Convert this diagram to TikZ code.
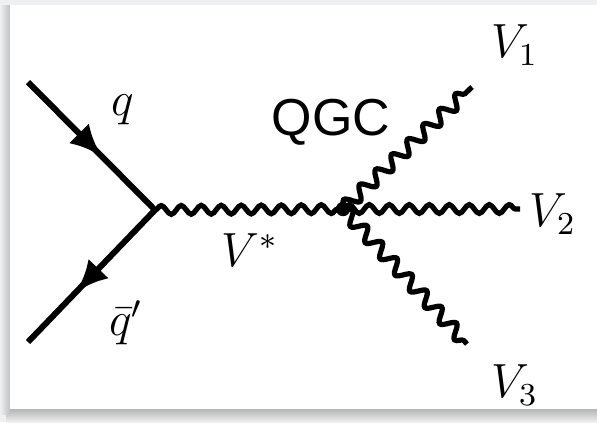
\documentclass[tikz,border=0pt]{standalone}
\usepackage{fontspec}
\newfontfamily\qgcfont{Liberation Sans}
\definecolor{framegray}{RGB}{238,240,242}
\definecolor{shadowgray}{RGB}{150,150,150}
\usepackage{tikz}
\usetikzlibrary{arrows.meta,decorations.pathmorphing,decorations.markings}
\tikzset{
  fermion/.style={line width=1.5pt,postaction={decorate},
    decoration={markings,mark=at position #1 with {\arrow{Latex[length=8pt,width=7pt]}}}},
  boson/.style={line width=1.3pt,decorate,
    decoration={snake,segment length=5pt,amplitude=1.1pt}},
  bosonout/.style={line width=1.3pt,decorate,
    decoration={snake,segment length=5.5pt,amplitude=1.6pt}},
  vlabel/.style={font=\fontsize{12}{14}\selectfont}
}

\begin{document}
\begin{tikzpicture}[x=0.25pt,y=-0.25pt]
    % frame
    \fill[framegray] (0,0) rectangle (597,422);
    \shade[top color=shadowgray!70,bottom color=framegray] (6,409) rectangle (597,422);
    \shade[left color=framegray,right color=shadowgray!60] (0,5) rectangle (10,414);
    \fill[white] (10,5) rectangle (597,409);
    \useasboundingbox (0,0) rectangle (597,422);

    % vertices and end points
    \coordinate (qin) at (28,82);
    \coordinate (qbar) at (28,342);
    \coordinate (vqq) at (155,210);
    \coordinate (vqgc) at (343,209);
    \coordinate (v1end) at (472,87);
    \coordinate (v2end) at (520,209);
    \coordinate (v3end) at (467,344);

    % lines
    \draw[fermion=0.58] (qin) -- (vqq);
    \draw[fermion=0.62] (vqq) -- (qbar);
    \draw[boson] (vqq) -- (vqgc);
    \draw[bosonout] (vqgc) -- (v1end);
    \draw[boson] (vqgc) -- (v2end);
    \draw[bosonout] (vqgc) -- (v3end);
    \fill (vqgc) circle (1.8pt);

    % labels
    \node[vlabel] (lq) at (123,110) {$q$};
    \node[vlabel] (lqbar) at (126,323) {$\bar{q}'$};
    \node[vlabel] (lvstar) at (250,250) {$V^{*}$};
    \node[vlabel] (lv1) at (515,45) {$V_1$};
    \node[vlabel] (lv2) at (553,214) {$V_2$};
    \node[vlabel] (lv3) at (515,385) {$V_3$};
    \node[font=\qgcfont\fontsize{13}{15}\selectfont] (lqgc) at (331,122) {QGC};
\end{tikzpicture}
\end{document}
